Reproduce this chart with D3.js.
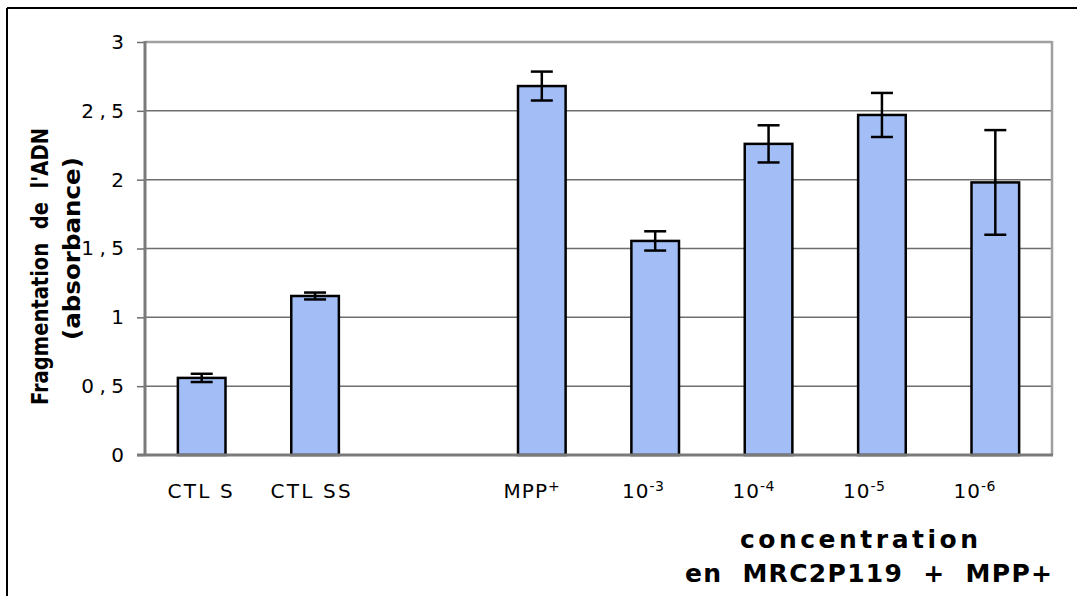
<!DOCTYPE html>
<html><head><meta charset="utf-8">
<script src="https://d3js.org/d3.v7.min.js"></script>
<style>body{margin:0;background:#fff}svg{display:block}</style>
</head><body>
<script>
const categories = ["CTL S","CTL SS","","MPP+","10-3","10-4","10-5","10-6"];
const values = [0.56, 1.155, null, 2.68, 1.555, 2.26, 2.47, 1.98];
const errors = [0.03, 0.025, null, 0.105, 0.07, 0.135, 0.16, 0.38];
const yTicks = [0, 0.5, 1, 1.5, 2, 2.5, 3];
const tickLabels = ["0","0,5","1","1,5","2","2,5","3"];
const yTitle = ["Fragmentation  de  l'ADN", "(absorbance)"];
const xTitle = ["concentration", "en  MRC2P119  +  MPP+"];

const W = 1077, H = 596;
const svg = d3.select("body").append("svg").attr("width", W).attr("height", H);
const m = {left:145, right:1052, top:42, bottom:455};

// outer frame
svg.append("line").attr("x1",7).attr("x2",W).attr("y1",8).attr("y2",8).attr("stroke","#000").attr("stroke-width",2);
svg.append("line").attr("x1",7).attr("x2",7).attr("y1",8).attr("y2",H).attr("stroke","#000").attr("stroke-width",2);

const x = d3.scaleBand().domain(d3.range(categories.length)).range([m.left, m.right]).paddingInner(0.58).paddingOuter(0.29);
const xLab = d3.scaleBand().domain(d3.range(categories.length)).range([146, 1030]);
const y = d3.scaleLinear().domain([0,3]).range([m.bottom, m.top]);

// gridlines
svg.append("g").selectAll("line").data(yTicks.filter(d=>d>0)).join("line")
  .attr("x1", m.left).attr("x2", m.right).attr("y1", d=>y(d)).attr("y2", d=>y(d))
  .attr("stroke", d=> d===3 ? "#a0a0a0" : "#6e6e6e").attr("stroke-width", d=> d===3?2.5:1.5);
// right border
svg.append("line").attr("x1", m.right).attr("x2", m.right).attr("y1", m.top-1).attr("y2", m.bottom)
  .attr("stroke","#a0a0a0").attr("stroke-width",2.5);

// y axis
const yAxis = d3.axisLeft(y).tickValues(yTicks).tickFormat((d,i)=>tickLabels[i]).tickSize(8).tickPadding(13);
const ya = svg.append("g").attr("transform",`translate(${m.left},0)`).call(yAxis);
ya.attr("font-size",null).attr("font-family",null);
ya.select(".domain").remove();
ya.selectAll(".tick line").attr("stroke","#6e6e6e").attr("stroke-width",1.5);
ya.selectAll("text").style("font-family","'DejaVu Sans'").style("font-size","20px").attr("fill","#000")
  .attr("letter-spacing",(d,i)=> tickLabels[i].includes(",") ? 5.5 : 0)
  .attr("dx",(d,i)=> tickLabels[i].includes(",") ? 5.5 : 0);

// bars
const data = categories.map((c,i)=>({c, v:values[i], e:errors[i], i})).filter(d=>d.v!==null);
svg.append("g").selectAll("rect").data(data).join("rect")
  .attr("x", d=>x(d.i)).attr("width", x.bandwidth())
  .attr("y", d=>y(d.v)).attr("height", d=>y(0)-y(d.v))
  .attr("fill","#a3bef7").attr("stroke","#000").attr("stroke-width",2.5);

// axes lines
svg.append("line").attr("x1", m.left).attr("x2", m.left).attr("y1", m.top-1).attr("y2", m.bottom+1)
  .attr("stroke","#7a7a7a").attr("stroke-width",3);
svg.append("line").attr("x1", m.left-8).attr("x2", m.right+1).attr("y1", m.bottom).attr("y2", m.bottom)
  .attr("stroke","#7a7a7a").attr("stroke-width",3);

// error bars
const eg = svg.append("g").attr("stroke","#000").attr("stroke-width",2.5);
data.forEach(d=>{
  const cx = x(d.i)+x.bandwidth()/2;
  const cw = Math.min(11, x.bandwidth()/4);
  eg.append("line").attr("x1",cx).attr("x2",cx).attr("y1",y(d.v+d.e)).attr("y2",y(d.v-d.e));
  eg.append("line").attr("x1",cx-cw).attr("x2",cx+cw).attr("y1",y(d.v+d.e)).attr("y2",y(d.v+d.e));
  eg.append("line").attr("x1",cx-cw).attr("x2",cx+cw).attr("y1",y(d.v-d.e)).attr("y2",y(d.v-d.e));
});

// x labels
const xl = svg.append("g").style("font-family","'DejaVu Sans'").style("font-size","20px").attr("fill","#000").attr("letter-spacing",2.2);
categories.forEach((c,i)=>{
  if(!c) return;
  const cx = xLab(i)+xLab.bandwidth()/2;
  const t = xl.append("text").attr("x",cx).attr("y",498).attr("text-anchor","middle");
  if(c.startsWith("10-")){
    t.append("tspan").attr("letter-spacing",1).text("10");
    t.append("tspan").attr("dy",-7).style("font-size","14px").attr("letter-spacing",0.5).text("-"+c.slice(3));
  } else if(c==="MPP+"){
    t.append("tspan").attr("letter-spacing",1).text("MPP");
    t.append("tspan").attr("dy",-7).style("font-size","14px").text("+");
  } else {
    t.text(c);
  }
});

// x title
const xt = svg.append("g").style("font-family","'DejaVu Sans'").attr("font-weight","bold").attr("fill","#000");
xt.append("text").attr("x",740).attr("y",548).style("font-size","25px").attr("textLength",238).text(xTitle[0]);
xt.append("text").attr("x",685).attr("y",582).style("font-size","25px").attr("textLength",367).style("white-space","pre").text(xTitle[1]);

// y title
const yt = svg.append("g").style("font-family","'DejaVu Sans Condensed', 'DejaVu Sans'").attr("font-weight","bold").attr("fill","#000");
yt.append("text").attr("transform","translate(48,405) rotate(-90)").style("font-size","23px")
  .attr("textLength",277).attr("lengthAdjust","spacingAndGlyphs").style("white-space","pre").text(yTitle[0]);
yt.append("text").attr("transform","translate(80,340) rotate(-90)").style("font-size","23px")
  .attr("textLength",183).attr("lengthAdjust","spacingAndGlyphs").style("white-space","pre").text(yTitle[1]);
</script>
</body></html>
